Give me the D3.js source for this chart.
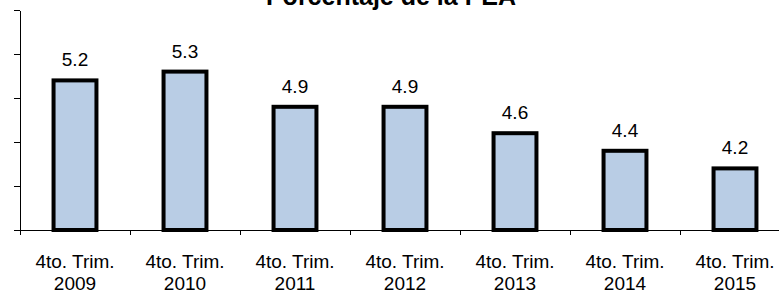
<!DOCTYPE html>
<html>
<head>
<meta charset="utf-8">
<script src="https://cdn.jsdelivr.net/npm/d3@7"></script>
<style>
  body { margin: 0; background: #fff; }
  text { font-family: "Liberation Sans", Arial, sans-serif; fill: #000; }
</style>
</head>
<body>
<script>
// data
var categories = ["2009", "2010", "2011", "2012", "2013", "2014", "2015"];
var catPrefix = "4to. Trim.";
var values = [5.2, 5.3, 4.9, 4.9, 4.6, 4.4, 4.2];
var yTicks = [3.5, 4.0, 4.5, 5.0, 5.5, 6.0];
var title = "Porcentaje de la PEA";

var w = 779;
var h = 292;

var svg = d3.select("body")
  .append("svg")
  .attr("width", w)
  .attr("height", h);

// plot area runs past the right edge, like the clipped original
var plotLeft = 20, plotRight = 790, plotTop = 10, plotBottom = 230;

var x = d3.scaleBand()
  .domain(categories)
  .range([plotLeft, plotRight])
  .padding(0);

var xEdge = d3.scaleLinear()
  .domain([0, categories.length])
  .range([plotLeft, plotRight]);

var y = d3.scaleLinear()
  .domain([3.5, 6.0])
  .range([plotBottom, plotTop]);

var barW = x.bandwidth() * 0.39;

// bars
svg.selectAll(".bar")
  .data(values)
  .enter()
  .append("rect")
  .attr("class", "bar")
  .attr("x", function(d, i) { return x(categories[i]) + (x.bandwidth() - barW) / 2; })
  .attr("y", function(d) { return y(d); })
  .attr("width", barW)
  .attr("height", function(d) { return y(3.5) - y(d); })
  .attr("fill", "#b9cde5")
  .attr("stroke", "#000")
  .attr("stroke-width", 4);

// value labels
svg.selectAll(".val")
  .data(values)
  .enter()
  .append("text")
  .attr("class", "val")
  .attr("x", function(d, i) { return x(categories[i]) + x.bandwidth() / 2; })
  .attr("y", function(d) { return y(d) - 14; })
  .attr("text-anchor", "middle")
  .style("font-size", "19px")
  .text(function(d) { return d.toFixed(1); });

// y axis (no labels)
svg.append("g")
  .attr("transform", "translate(" + plotLeft + ",0)")
  .call(d3.axisLeft(y).tickValues(yTicks).tickFormat("").tickSize(6).tickSizeOuter(0));

// x axis, ticks on category boundaries
svg.append("g")
  .attr("transform", "translate(0," + plotBottom + ")")
  .call(d3.axisBottom(xEdge).tickValues(d3.range(0, categories.length + 1)).tickFormat("").tickSize(5).tickSizeOuter(0));

svg.selectAll(".domain, .tick line")
  .attr("stroke", "#000")
  .attr("stroke-width", 1.2)
  .attr("shape-rendering", "crispEdges");

// bars drawn over the axis line
svg.selectAll(".bar").raise();

// category labels
var cat = svg.selectAll(".cat")
  .data(categories)
  .enter()
  .append("text")
  .attr("class", "cat")
  .attr("text-anchor", "middle")
  .style("font-size", "19px");

cat.append("tspan")
  .attr("x", function(d) { return x(d) + x.bandwidth() / 2; })
  .attr("y", 268)
  .text(catPrefix);

cat.append("tspan")
  .attr("x", function(d) { return x(d) + x.bandwidth() / 2; })
  .attr("y", 290)
  .text(function(d) { return d; });

// title, cut off at top
svg.append("text")
  .attr("x", 391)
  .attr("y", 5)
  .attr("text-anchor", "middle")
  .style("font-size", "25px")
  .style("font-weight", "bold")
  .text(title);
</script>
</body>
</html>
